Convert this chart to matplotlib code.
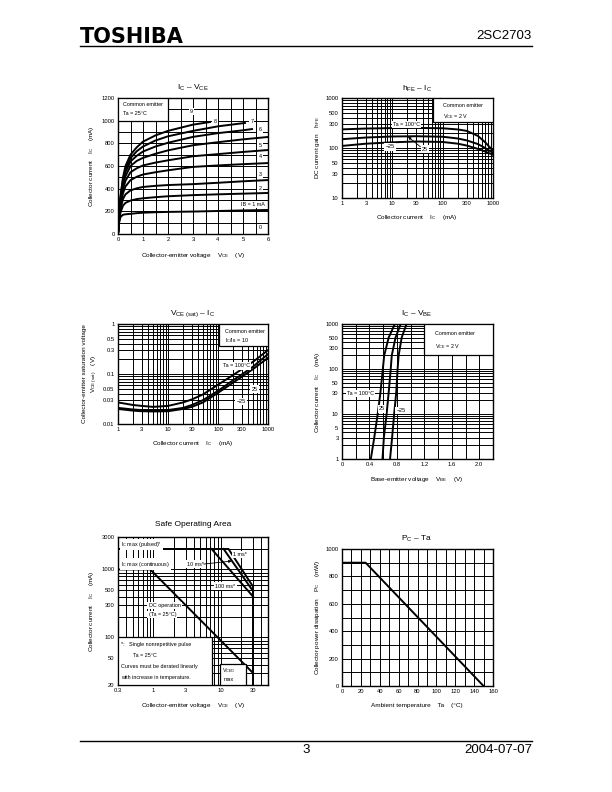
import numpy as np
import matplotlib
matplotlib.use('Agg')
import matplotlib.pyplot as plt
from matplotlib.ticker import FixedLocator, NullFormatter, LogLocator, MultipleLocator
from matplotlib.patches import Rectangle
from matplotlib.lines import Line2D

plt.rcParams['font.family'] = ['Liberation Sans', 'DejaVu Sans']
plt.rcParams['mathtext.fontset'] = 'custom'
plt.rcParams['mathtext.rm'] = 'Liberation Sans'
plt.rcParams['mathtext.it'] = 'Liberation Sans'
plt.rcParams['mathtext.default'] = 'regular'

# ---- IC - VCE data (mA vs V), IB = 1..9 mA
vce = [0, 0.05, 0.1, 0.2, 0.3, 0.5, 0.75, 1, 1.5, 2, 3, 4, 5, 6]
ic_ib1 = [0, 110, 150, 170, 174, 178, 184, 188, 192, 195, 198, 203, 208, 212]
ic_ib2 = [0, 120, 190, 250, 275, 295, 308, 315, 325, 333, 343, 350, 356, 362]
ic_ib3 = [0, 130, 220, 310, 350, 385, 403, 415, 425, 432, 440, 452, 465, 476]
ic_ib4 = [0, 140, 250, 360, 420, 475, 505, 525, 545, 562, 592, 605, 616, 626]
ic_ib5 = [0, 150, 270, 400, 470, 545, 580, 605, 630, 650, 686, 705, 724, 741]
ic_ib6 = [0, 160, 290, 430, 510, 600, 645, 672, 708, 738, 783, 810, 835, 856]
vce_ib7 = [0, 0.05, 0.1, 0.2, 0.3, 0.5, 0.75, 1, 1.5, 2, 3, 4, 5, 5.36]
ic_ib7 = [0, 165, 305, 455, 545, 640, 690, 728, 772, 805, 857, 890, 915, 926]
vce_ib8 = [0, 0.05, 0.1, 0.2, 0.3, 0.5, 0.75, 1, 1.5, 2, 3, 4, 5.08]
ic_ib8 = [0, 170, 320, 480, 575, 670, 730, 772, 825, 862, 910, 950, 980]
vce_ib9 = [0, 0.05, 0.1, 0.2, 0.3, 0.5, 0.75, 1, 1.5, 2, 3, 3.68]
ic_ib9 = [0, 175, 335, 500, 600, 700, 765, 815, 870, 910, 965, 988]

# ---- hFE - IC data
hfe_ic = [1, 3, 10, 30, 100, 200, 300, 500, 700, 1000]
hfe_100 = [236, 245, 250, 252, 248, 235, 220, 175, 130, 88]
hfe_25 = [150, 162, 170, 172, 168, 155, 142, 120, 100, 80]
hfe_m25 = [110, 122, 130, 135, 132, 122, 112, 96, 85, 73]

# ---- VCE(sat) - IC data
sat_ic = [1, 2, 3, 5, 10, 20, 30, 50, 100, 200, 300, 500, 1000]
sat_100 = [0.027, 0.024, 0.023, 0.022, 0.023, 0.027, 0.031, 0.039, 0.061, 0.095, 0.125, 0.175, 0.30]
sat_25 = [0.021, 0.0195, 0.019, 0.0185, 0.019, 0.021, 0.024, 0.030, 0.046, 0.075, 0.098, 0.14, 0.25]
sat_m25 = [0.020, 0.0185, 0.018, 0.0178, 0.018, 0.020, 0.022, 0.027, 0.042, 0.067, 0.088, 0.125, 0.21]

# ---- IC - VBE data
vbe_ic = [1, 3, 10, 30, 100, 200, 500, 1000]
vbe_100 = [0.42, 0.47, 0.52, 0.56, 0.595, 0.615, 0.68, 0.77]
vbe_25 = [0.59, 0.61, 0.65, 0.68, 0.71, 0.725, 0.78, 0.855]
vbe_m25 = [0.70, 0.73, 0.76, 0.79, 0.81, 0.825, 0.87, 0.94]

# ---- Safe operating area
soa_pulse_v = [0.3, 13, 30]
soa_pulse_ic = [2000, 2000, 560]
soa_10ms_v = [11, 30]
soa_10ms_ic = [2000, 480]
soa_100ms_v = [7.3, 30]
soa_100ms_ic = [2000, 400]
soa_dc_v = [0.3, 0.9, 30]
soa_dc_ic = [1000, 1000, 30]
soa_vceo_v = [30, 30]
soa_vceo_ic = [20, 560]

# ---- PC - Ta
ta = [0, 25, 150]
pc = [900, 900, 0]

W, H = 612, 792
fig = plt.figure(figsize=(6.12, 7.92), dpi=100)

def ax_at(l, r, t, b):
    return fig.add_axes([l / W, 1 - b / H, (r - l) / W, (b - t) / H])

def ftext(x, y, s, **kw):
    kw.setdefault('ha', 'center')
    kw.setdefault('va', 'center')
    fig.text(x / W, 1 - y / H, s, **kw)

TL = 4.2   # tick label size
LS = 4.6   # axis label size
TS = 6.0   # title size
AS = 3.9   # annotation size
CLW = 1.4  # curve width

def style(ax):
    for s in ax.spines.values():
        s.set_linewidth(1.0)
    ax.tick_params(which='both', length=0, labelsize=TL, pad=2.5)
    ax.grid(which='both', color='black', lw=0.7)
    ax.set_axisbelow(True)

def logminor(axis):
    axis.set_minor_locator(LogLocator(base=10, subs=np.arange(2, 10), numticks=20))
    axis.set_minor_formatter(NullFormatter())

def lbl(ax, x, y, s, **kw):
    kw.setdefault('ha', 'center')
    kw.setdefault('va', 'center')
    ax.text(x, y, s, fontsize=AS, zorder=5,
            bbox=dict(facecolor='white', edgecolor='none', pad=0.8), **kw)

def box(ax, x0, y0, x1, y1):
    ax.add_patch(Rectangle((x0, y0), x1 - x0, y1 - y0, facecolor='white',
                           edgecolor='black', lw=0.9, zorder=4))

# ================= IC - VCE
ax1 = ax_at(118, 268, 98, 234)
style(ax1)
ax1.set_xlim(0, 6)
ax1.set_ylim(0, 1200)
ax1.xaxis.set_major_locator(MultipleLocator(1))
ax1.xaxis.set_minor_locator(MultipleLocator(0.5))
ax1.yaxis.set_major_locator(MultipleLocator(200))
ax1.yaxis.set_minor_locator(MultipleLocator(100))
for v, i in [(vce, ic_ib1), (vce, ic_ib2), (vce, ic_ib3), (vce, ic_ib4), (vce, ic_ib5),
             (vce, ic_ib6), (vce_ib7, ic_ib7), (vce_ib8, ic_ib8), (vce_ib9, ic_ib9)]:
    ax1.plot(v, i, color='black', lw=CLW, zorder=3)
box(ax1, 0, 1000, 2.0, 1200)
ax1.text(0.2, 1140, 'Common emitter', fontsize=AS, va='center', zorder=6)
ax1.text(0.2, 1060, 'Ta = 25°C', fontsize=AS, va='center', zorder=6)
for x, y, s in [(2.95, 1080, '9'), (3.88, 997, '8'), (5.35, 997, '7'), (5.68, 918, '6'),
                (5.68, 779, '5'), (5.68, 682, '4'), (5.68, 527, '3'), (5.68, 403, '2'),
                (5.4, 262, 'IB = 1 mA'), (5.68, 56, '0')]:
    lbl(ax1, x, y, s)
ftext(193, 88, '$I_C$ – $V_{CE}$', fontsize=TS)
ftext(193, 255, 'Collector-emitter voltage    $V_{CE}$    (V)', fontsize=LS)
ftext(92, 166, 'Collector current    $I_C$    (mA)', fontsize=LS, rotation=90)

# ================= hFE - IC
ax2 = ax_at(342, 493, 98, 198)
style(ax2)
ax2.set_xscale('log')
ax2.set_yscale('log')
ax2.set_xlim(1, 1000)
ax2.set_ylim(10, 1000)
ax2.xaxis.set_major_locator(FixedLocator([1, 3, 10, 30, 100, 300, 1000]))
ax2.xaxis.set_major_formatter(plt.FixedFormatter(['1', '3', '10', '30', '100', '300', '1000']))
ax2.yaxis.set_major_locator(FixedLocator([10, 30, 50, 100, 300, 500, 1000]))
ax2.yaxis.set_major_formatter(plt.FixedFormatter(['10', '30', '50', '100', '300', '500', '1000']))
logminor(ax2.xaxis)
logminor(ax2.yaxis)
for h in [hfe_100, hfe_25, hfe_m25]:
    ax2.plot(hfe_ic, h, color='black', lw=CLW, zorder=3)
box(ax2, 65, 330, 1000, 1000)
ax2.text(100, 720, 'Common emitter', fontsize=AS, va='center', zorder=6)
ax2.text(100, 430, '$V_{CE}$ = 2 V', fontsize=AS, va='center', zorder=6)
lbl(ax2, 19, 300, 'Ta = 100°C')
lbl(ax2, 9, 105, '−25')
lbl(ax2, 45, 95, '25')
ax2.annotate('', xy=(20.5, 168), xytext=(36, 106),
             arrowprops=dict(arrowstyle='-|>', color='black', lw=0.6,
                             mutation_scale=4, shrinkA=0, shrinkB=0), zorder=6)
ftext(417, 89, '$h_{FE}$ – $I_C$', fontsize=TS)
ftext(417, 218, 'Collector current    $I_C$    (mA)', fontsize=LS)
ftext(318, 148, 'DC current gain    $h_{FE}$', fontsize=LS, rotation=90)

# ================= VCE(sat) - IC
ax3 = ax_at(118, 268, 324, 424)
style(ax3)
ax3.set_xscale('log')
ax3.set_yscale('log')
ax3.set_xlim(1, 1000)
ax3.set_ylim(0.01, 1)
ax3.xaxis.set_major_locator(FixedLocator([1, 3, 10, 30, 100, 300, 1000]))
ax3.xaxis.set_major_formatter(plt.FixedFormatter(['1', '3', '10', '30', '100', '300', '1000']))
ax3.yaxis.set_major_locator(FixedLocator([0.01, 0.03, 0.05, 0.1, 0.3, 0.5, 1]))
ax3.yaxis.set_major_formatter(plt.FixedFormatter(['0.01', '0.03', '0.05', '0.1', '0.3', '0.5', '1']))
logminor(ax3.xaxis)
logminor(ax3.yaxis)
for s in [sat_100, sat_25, sat_m25]:
    ax3.plot(sat_ic, s, color='black', lw=CLW, zorder=3)
box(ax3, 105, 0.36, 1000, 1)
ax3.text(135, 0.72, 'Common emitter', fontsize=AS, va='center', zorder=6)
ax3.text(135, 0.46, '$I_C/I_B$ = 10', fontsize=AS, va='center', zorder=6)
lbl(ax3, 230, 0.145, 'Ta = 100°C')
lbl(ax3, 540, 0.05, '25')
lbl(ax3, 290, 0.028, '−25')
ftext(193, 314, '$V_{CE\\ (sat)}$ – $I_C$', fontsize=TS)
ftext(193, 443, 'Collector current    $I_C$    (mA)', fontsize=LS)
ftext(84, 374, 'Collector-emitter saturation voltage', fontsize=LS, rotation=90)
ftext(95, 374, '$V_{CE\\ (sat)}$    (V)', fontsize=LS, rotation=90)

# ================= IC - VBE
ax4 = ax_at(342, 493, 324, 459)
style(ax4)
ax4.set_yscale('log')
ax4.set_xlim(0, 2.2)
ax4.set_ylim(1, 1000)
ax4.xaxis.set_major_locator(FixedLocator([0, 0.4, 0.8, 1.2, 1.6, 2.0]))
ax4.xaxis.set_major_formatter(plt.FixedFormatter(['0', '0.4', '0.8', '1.2', '1.6', '2.0']))
ax4.xaxis.set_minor_locator(MultipleLocator(0.2))
ax4.yaxis.set_major_locator(FixedLocator([1, 3, 5, 10, 30, 50, 100, 300, 500, 1000]))
ax4.yaxis.set_major_formatter(plt.FixedFormatter(['1', '3', '5', '10', '30', '50', '100', '300', '500', '1000']))
logminor(ax4.yaxis)
for v in [vbe_100, vbe_25, vbe_m25]:
    ax4.plot(v, vbe_ic, color='black', lw=CLW, zorder=3)
box(ax4, 1.2, 200, 2.2, 1000)
ax4.text(1.35, 600, 'Common emitter', fontsize=AS, va='center', zorder=6)
ax4.text(1.35, 315, '$V_{CE}$ = 2 V', fontsize=AS, va='center', zorder=6)
lbl(ax4, 0.27, 29, 'Ta = 100°C')
lbl(ax4, 0.585, 13, '25')
lbl(ax4, 0.86, 12, '−25')
ftext(417, 314, '$I_C$ – $V_{BE}$', fontsize=TS)
ftext(417, 480, 'Base-emitter voltage    $V_{BE}$    (V)', fontsize=LS)
ftext(318, 392, 'Collector current    $I_C$    (mA)', fontsize=LS, rotation=90)

# ================= Safe operating area
ax5 = ax_at(118, 268, 537, 685)
style(ax5)
ax5.set_xscale('log')
ax5.set_yscale('log')
ax5.set_xlim(0.3, 50)
ax5.set_ylim(20, 3000)
ax5.xaxis.set_major_locator(FixedLocator([0.3, 1, 3, 10, 30]))
ax5.xaxis.set_major_formatter(plt.FixedFormatter(['0.3', '1', '3', '10', '30']))
ax5.yaxis.set_major_locator(FixedLocator([20, 50, 100, 300, 500, 1000, 3000]))
ax5.yaxis.set_major_formatter(plt.FixedFormatter(['20', '50', '100', '300', '500', '1000', '3000']))
logminor(ax5.xaxis)
logminor(ax5.yaxis)
for v, i in [(soa_pulse_v, soa_pulse_ic), (soa_10ms_v, soa_10ms_ic), (soa_100ms_v, soa_100ms_ic),
             (soa_dc_v, soa_dc_ic), (soa_vceo_v, soa_vceo_ic)]:
    ax5.plot(v, i, color='black', lw=CLW, zorder=3)
box(ax5, 0.3, 20, 7.3, 100)
ax5.text(0.33, 78, '*:   Single nonrepetitive pulse', fontsize=AS, va='center', zorder=6)
ax5.text(0.5, 54, 'Ta = 25°C', fontsize=AS, va='center', zorder=6)
ax5.text(0.33, 37, 'Curves must be derated linearly', fontsize=AS, va='center', zorder=6)
ax5.text(0.33, 26, 'with increase in temperature.', fontsize=AS, va='center', zorder=6)
box(ax5, 9.7, 20, 24, 41)
ax5.text(10.5, 33, '$V_{CEO}$', fontsize=AS, va='center', zorder=6)
ax5.text(11, 24.5, 'max', fontsize=AS, va='center', zorder=6)
lbl(ax5, 0.33, 2350, '$I_C$ max (pulsed)*', ha='left')
lbl(ax5, 0.33, 1200, '$I_C$ max (continuous)', ha='left')
lbl(ax5, 3.2, 1200, '10 ms*', ha='left')
ax5.annotate('', xy=(14.5, 1330), xytext=(5.6, 1200),
             arrowprops=dict(arrowstyle='-|>', color='black', lw=0.6,
                             mutation_scale=4, shrinkA=0, shrinkB=0), zorder=6)
lbl(ax5, 15, 1650, '1 ms*', ha='left')
lbl(ax5, 8.3, 570, '100 ms*', ha='left')
lbl(ax5, 0.85, 295, 'DC operation', ha='left')
lbl(ax5, 0.85, 215, '(Ta = 25°C)', ha='left')
ftext(193, 524, 'Safe Operating Area', fontsize=TS)
ftext(193, 705, 'Collector-emitter voltage    $V_{CE}$    (V)', fontsize=LS)
ftext(92, 611, 'Collector current    $I_C$    (mA)', fontsize=LS, rotation=90)

# ================= PC - Ta
ax6 = ax_at(342, 493, 549, 686)
style(ax6)
ax6.set_xlim(0, 160)
ax6.set_ylim(0, 1000)
ax6.xaxis.set_major_locator(MultipleLocator(20))
ax6.xaxis.set_minor_locator(MultipleLocator(10))
ax6.yaxis.set_major_locator(MultipleLocator(200))
ax6.yaxis.set_minor_locator(MultipleLocator(100))
ax6.plot(ta, pc, color='black', lw=CLW, zorder=3)
ftext(417, 539, '$P_C$ – Ta', fontsize=TS)
ftext(417, 705, 'Ambient temperature    Ta    (°C)', fontsize=LS)
ftext(318, 617, 'Collector power dissipation    $P_C$    (mW)', fontsize=LS, rotation=90)

# ================= page header / footer
ftext(80, 37, 'TOSHIBA', ha='left', fontsize=15, fontweight='heavy', family='DejaVu Sans')
ftext(532, 36, '2SC2703', ha='right', fontsize=9.5)
fig.add_artist(Line2D([80 / W, 532 / W], [1 - 46 / H] * 2, color='black', lw=1.0))
fig.add_artist(Line2D([80 / W, 532 / W], [1 - 741 / H] * 2, color='black', lw=1.0))
ftext(306, 750, '3', fontsize=9.5)
ftext(532, 750, '2004-07-07', ha='right', fontsize=9.5)

fig.savefig('out.png', dpi=100)
